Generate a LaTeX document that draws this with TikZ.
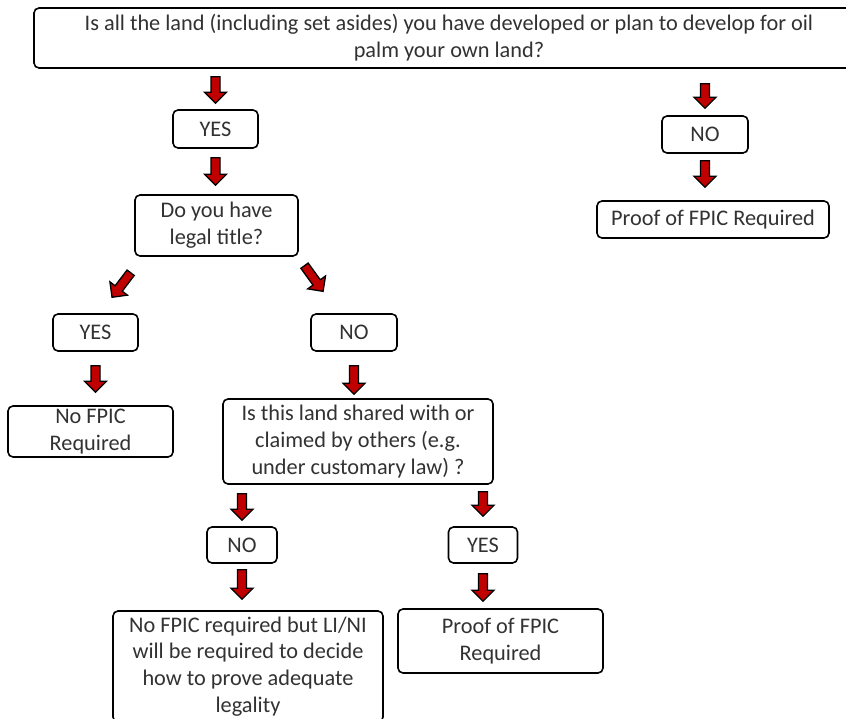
\documentclass[tikz,border=0pt]{standalone}
\usepackage{fontspec}
\setmainfont{Carlito}
\usetikzlibrary{calc}
\definecolor{xArrowRed}{RGB}{192,0,0}
\definecolor{xText}{RGB}{50,50,50}

\tikzset{
    box/.style={
        draw=black,
        line width=1.6pt,
        rounded corners=5pt,
        align=center,
        inner sep=0pt,
        text=xText,
        font=\fontsize{22.3}{26.8}\selectfont
    },
    % block arrow between two points, #1 / #2 = gap at start / end (pt)
    flow/.style 2 args={
        draw=black,
        line width=1.3pt,
        line join=miter,
        fill=xArrowRed,
        to path={
            ($(\tikztostart)!#1pt!(\tikztotarget)$) coordinate (fa-s)
            ($(\tikztotarget)!#2pt!(\tikztostart)$) coordinate (fa-e)
            ($(fa-e)!11pt!(fa-s)$) coordinate (fa-h)
            ($(fa-s)!4.5pt!90:(fa-e)$) --
            ($(fa-h)!4.5pt!-90:(fa-s)$) --
            ($(fa-h)!11pt!-90:(fa-s)$) --
            (fa-e) --
            ($(fa-h)!11pt!90:(fa-s)$) --
            ($(fa-h)!4.5pt!90:(fa-s)$) --
            ($(fa-s)!4.5pt!-90:(fa-e)$) -- cycle
        }
    }
}

\begin{document}
\begin{tikzpicture}[x=1pt,y=-1pt]

    % -------------------------------------------------
    % Page frame (846 x 719)
    % -------------------------------------------------
    \useasboundingbox (0,0) rectangle (846,719);
    \fill[white] (0,0) rectangle (846,719);

    % -------------------------------------------------
    % Question and answer boxes
    % -------------------------------------------------
    \node[box, minimum width=830pt, minimum height=60pt] (q1) at (449,38)
        {Is all the land (including set asides) you have developed or plan to develop for oil\\palm your own land?};

    \node[box, minimum width=85pt, minimum height=38pt] (yes1) at (215.5,129) {YES};
    \node[box, minimum width=86pt, minimum height=37pt] (no1) at (705,134.5) {NO};
    \node[box, minimum width=232pt, minimum height=37pt] (proof1) at (713,219.5) {Proof of FPIC Required};

    \node[box, minimum width=163pt, minimum height=61pt] (q2) at (216.5,225.5)
        {Do you have\\legal title?};

    \node[box, minimum width=85pt, minimum height=37pt] (yes2) at (95.5,332.5) {YES};
    \node[box, minimum width=86pt, minimum height=37pt] (no2) at (354,332.5) {NO};
    \node[box, minimum width=165pt, minimum height=51pt] (nofpic) at (90.5,431.5)
        {No FPIC\\Required};

    \node[box, minimum width=270pt, minimum height=85pt] (q3) at (358,441.5)
        {Is this land shared with or\\claimed by others (e.g.\\under customary law) ?};

    \node[box, minimum width=70pt, minimum height=36pt] (no3) at (242,545) {NO};
    \node[box, minimum width=69pt, minimum height=36pt] (yes3) at (483,545) {YES};

    \node[box, minimum width=270pt, minimum height=111pt] (legal) at (248,666.5)
        {No FPIC required but LI/NI\\will be required to decide\\how to prove adequate\\legality};
    \node[box, minimum width=205pt, minimum height=64pt] (proof2) at (500.5,641)
        {Proof of FPIC\\Required};

    % -------------------------------------------------
    % Red block arrows
    % -------------------------------------------------
    \draw[flow={8}{6}] (yes1.north |- q1.south) to (yes1.north);
    \draw[flow={15}{7}] (no1.north |- q1.south) to (no1.north);
    \draw[flow={7}{13}] (no1.south) to (no1.south |- proof1.north);
    \draw[flow={9}{9}] (yes1.south) to (yes1.south |- q2.north);

    \draw[flow={20}{20}] (q2.203) to (yes2.77);
    \draw[flow={11}{27}] (q2.339) to (no2.128);

    \draw[flow={14}{13}] (yes2.south) to (yes2.south |- nofpic.north);
    \draw[flow={14}{4}] (no2.south) to (no2.south |- q3.north);

    \draw[flow={9}{6}] (no3.north |- q3.south) to (no3.north);
    \draw[flow={6}{11}] (no3.south) to (no3.south |- legal.north);
    \draw[flow={7}{10}] (yes3.north |- q3.south) to (yes3.north);
    \draw[flow={10}{7}] (yes3.south) to (yes3.south |- proof2.north);

\end{tikzpicture}
\end{document}
